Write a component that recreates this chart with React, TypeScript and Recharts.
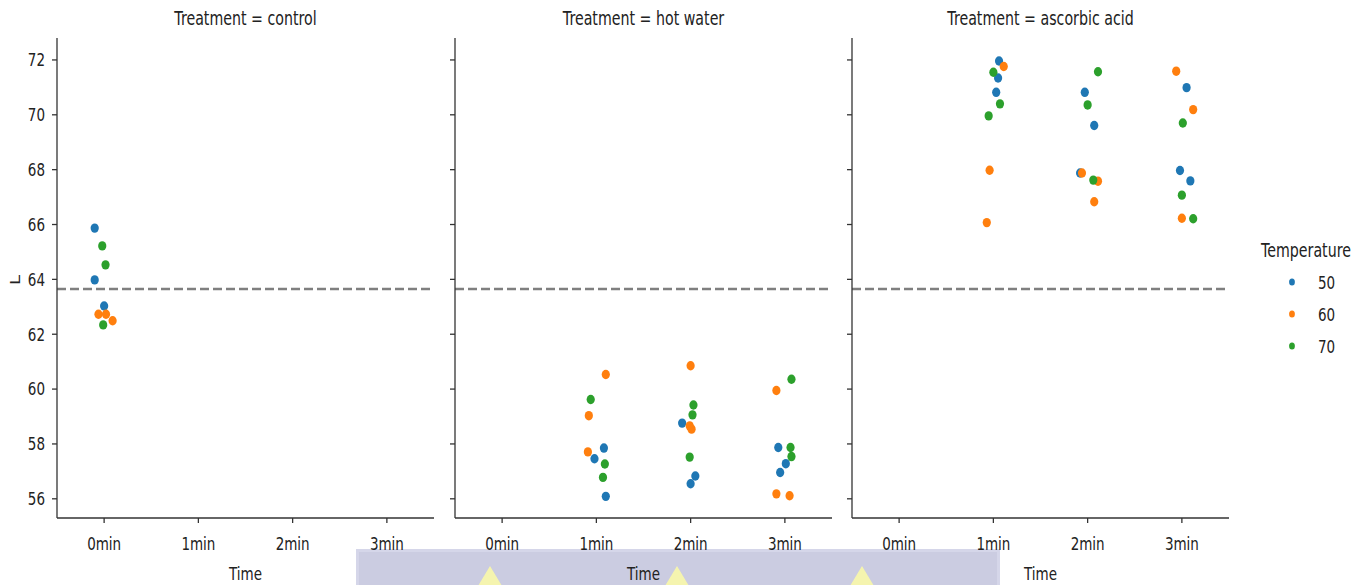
import { ScatterChart, Scatter, XAxis, YAxis, ReferenceLine } from "recharts";

const times = ["0min", "1min", "2min", "3min"];
const temperatures = [50, 60, 70];
const tempColors = ["#1f77b4", "#ff7f0e", "#2ca02c"];
const lTicks = [56, 58, 60, 62, 64, 66, 68, 70, 72];
const baselineL = 63.65;

// rows: [time index, temperature, L, strip jitter]
const control: number[][] = [
  [0, 50, 65.87, -0.1], [0, 50, 63.98, -0.1], [0, 50, 63.03, 0],
  [0, 60, 62.73, -0.06], [0, 60, 62.73, 0.02], [0, 60, 62.49, 0.09],
  [0, 70, 65.22, -0.02], [0, 70, 64.53, 0.015], [0, 70, 62.34, -0.01],
];

const hotWater: number[][] = [
  [1, 50, 57.85, 0.08], [1, 50, 57.46, -0.02], [1, 50, 56.09, 0.1],
  [1, 60, 60.53, 0.1], [1, 60, 59.03, -0.08], [1, 60, 57.71, -0.09],
  [1, 70, 59.62, -0.06], [1, 70, 57.27, 0.09], [1, 70, 56.78, 0.07],
  [2, 50, 58.76, -0.09], [2, 50, 56.83, 0.05], [2, 50, 56.55, 0],
  [2, 60, 60.85, 0], [2, 60, 58.66, -0.01], [2, 60, 58.54, 0.01],
  [2, 70, 59.42, 0.03], [2, 70, 59.06, 0.02], [2, 70, 57.52, -0.01],
  [3, 50, 57.87, -0.07], [3, 50, 57.28, 0.01], [3, 50, 56.96, -0.05],
  [3, 60, 59.95, -0.09], [3, 60, 56.18, -0.09], [3, 60, 56.11, 0.05],
  [3, 70, 60.36, 0.07], [3, 70, 57.87, 0.06], [3, 70, 57.54, 0.07],
];

const ascorbicAcid: number[][] = [
  [1, 50, 71.96, 0.06], [1, 50, 71.34, 0.05], [1, 50, 70.82, 0.03],
  [1, 60, 71.76, 0.11], [1, 60, 67.98, -0.04], [1, 60, 66.07, -0.07],
  [1, 70, 71.55, 0], [1, 70, 70.4, 0.07], [1, 70, 69.96, -0.05],
  [2, 50, 70.82, -0.03], [2, 50, 69.61, 0.07], [2, 50, 67.88, -0.08],
  [2, 60, 67.88, -0.06], [2, 60, 67.58, 0.11], [2, 60, 66.83, 0.07],
  [2, 70, 71.57, 0.11], [2, 70, 70.36, 0], [2, 70, 67.62, 0.06],
  [3, 50, 70.99, 0.05], [3, 50, 67.97, -0.02], [3, 50, 67.59, 0.09],
  [3, 60, 71.59, -0.06], [3, 60, 70.19, 0.12], [3, 60, 66.23, 0],
  [3, 70, 69.7, 0.01], [3, 70, 67.07, 0], [3, 70, 66.21, 0.12],
];

const FONT = "'DejaVu Sans', sans-serif";
const INK = "#222";
const AXIS = "#333";
// the reference text is squeezed sideways
const SQ_TICK = 0.75;
const SQ_TITLE = 0.71;

function XTick({ x, y, payload }: any) {
  return (
    <text transform={`translate(${x},${y}) scale(${SQ_TICK},1)`} textAnchor="middle" dy="0.71em" fontSize={18} fill={INK}>
      {times[payload.value]}
    </text>
  );
}

function YTick({ x, y, payload, show }: any) {
  if (!show) return null;
  return (
    <text transform={`translate(${x},${y}) scale(${SQ_TICK},1)`} textAnchor="end" dy="0.355em" fontSize={18} fill={INK}>
      {payload.value}
    </text>
  );
}

function Squeezed({ text, left, top, width, size, k }: { text: string; left: number; top: number; width: number; size: number; k: number }) {
  return (
    <div style={{ position: "absolute", left, top, width, textAlign: "center", fontSize: size, color: INK, transform: `scaleX(${k})`, whiteSpace: "nowrap" }}>
      {text}
    </div>
  );
}

function Panel({ title, rows, left, showLabels }: { title: string; rows: number[][]; left: number; showLabels: boolean }) {
  return (
    <div style={{ position: "absolute", left, top: 0, width: 434, height: 585 }}>
      <Squeezed text={title} left={57} top={6} width={377} size={20} k={SQ_TITLE} />
      <ScatterChart width={434} height={585} margin={{ top: 38, right: 0, bottom: 0, left: 0 }}>
        <XAxis
          type="number"
          dataKey="x"
          domain={[-0.5, 3.5]}
          ticks={[0, 1, 2, 3]}
          height={67}
          tickSize={5}
          tickMargin={14}
          stroke={AXIS}
          strokeWidth={1.3}
          tick={<XTick />}
        />
        <YAxis
          type="number"
          dataKey="y"
          domain={[55.3, 72.8]}
          ticks={lTicks}
          width={57}
          tickSize={5}
          tickMargin={7}
          stroke={AXIS}
          strokeWidth={1.3}
          tick={<YTick show={showLabels} />}
        />
        <ReferenceLine y={baselineL} stroke="#7f7f7f" strokeWidth={2.5} strokeDasharray="9 4" />
        {temperatures.map((t, k) => (
          <Scatter
            key={t}
            data={rows.filter((r) => r[1] === t).map((r) => ({ x: r[0] + r[3], y: r[2] }))}
            fill={tempColors[k]}
            isAnimationActive={false}
            shape={(p: any) => <ellipse cx={p.cx} cy={p.cy} rx={4.1} ry={4.7} fill={tempColors[k]} />}
          />
        ))}
      </ScatterChart>
      <Squeezed text="Time" left={57} top={563} width={377} size={18} k={SQ_TICK} />
    </div>
  );
}

export default function App() {
  return (
    <div style={{ position: "absolute", left: 0, top: 0, width: 1370, height: 585, background: "#fff", fontFamily: FONT, overflow: "hidden" }}>
      <div
        style={{
          position: "absolute",
          left: 356,
          top: 549,
          width: 638,
          height: 40,
          background: "rgba(160,162,200,0.55)",
          border: "3px solid rgba(215,216,235,0.8)",
        }}
      />
      {[490, 677, 862].map((x) => (
        <div
          key={x}
          style={{
            position: "absolute",
            left: x - 12,
            top: 566,
            width: 0,
            height: 0,
            borderLeft: "12px solid transparent",
            borderRight: "12px solid transparent",
            borderBottom: "20px solid rgba(250,248,170,0.9)",
          }}
        />
      ))}
      <Panel title="Treatment = control" rows={control} left={0} showLabels={true} />
      <Panel title="Treatment = hot water" rows={hotWater} left={398} showLabels={false} />
      <Panel title="Treatment = ascorbic acid" rows={ascorbicAcid} left={795} showLabels={false} />
      <div
        style={{ position: "absolute", left: 15, top: 280, fontSize: 18, color: INK, transform: "translate(-50%, -50%) rotate(-90deg) scaleY(0.75)" }}
      >
        L
      </div>
      <div style={{ position: "absolute", left: 1261, top: 238, fontSize: 20, color: INK, transform: `scaleX(${SQ_TITLE})`, transformOrigin: "left center" }}>
        Temperature
      </div>
      {temperatures.map((t, k) => (
        <div key={t} style={{ position: "absolute", left: 1286, top: 271 + k * 32, height: 22, display: "flex", alignItems: "center", fontSize: 18, color: INK }}>
          <svg width={12} height={14}>
            <ellipse cx={6} cy={7} rx={2.9} ry={3.5} fill={tempColors[k]} />
          </svg>
          <span style={{ marginLeft: 20, display: "inline-block", transform: `scaleX(${SQ_TICK})`, transformOrigin: "left center" }}>{t}</span>
        </div>
      ))}
    </div>
  );
}
